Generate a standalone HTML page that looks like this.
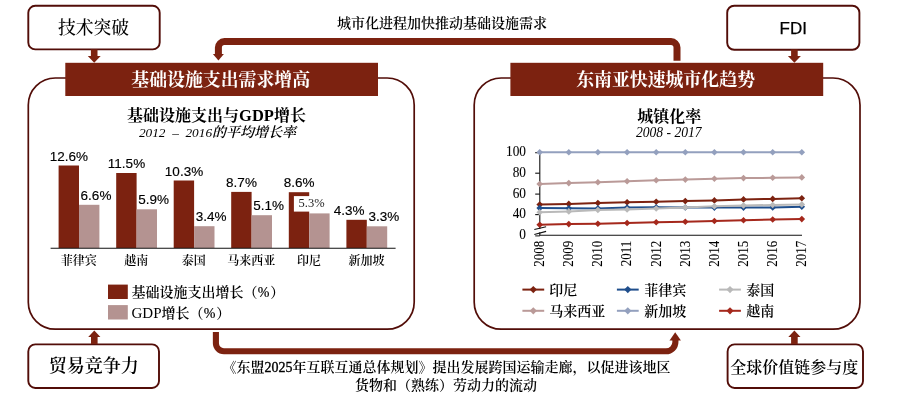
<!DOCTYPE html>
<html lang="zh"><head><meta charset="utf-8"><title>基础设施与城市化</title>
<style>html,body{margin:0;padding:0;background:#fff;}body{width:900px;height:406px;overflow:hidden;}svg{display:block;}text{font-family:'Liberation Serif','Noto Serif CJK SC',serif;fill:#000;}.sans{font-family:'Liberation Sans','Noto Sans CJK SC',sans-serif;}.b{font-weight:700;}.i{font-style:italic;}.m{text-anchor:middle;}.e{text-anchor:end;}</style></head><body>
<svg width="900" height="406" viewBox="0 0 900 406">
<rect width="900" height="406" fill="#fff"/>
<rect x="28.3" y="78.0" width="385.9" height="251.2" rx="27.0" ry="27.0" fill="none" stroke="#520D08" stroke-width="1.70"/>
<rect x="474.2" y="78.0" width="385.8" height="251.2" rx="27.0" ry="27.0" fill="none" stroke="#520D08" stroke-width="1.70"/>
<rect x="28.3" y="5.8" width="131.4" height="43.6" rx="7.0" ry="7.0" fill="#fff" stroke="#520D08" stroke-width="1.90"/>
<rect x="727.2" y="5.7" width="132.2" height="44.1" rx="7.0" ry="7.0" fill="#fff" stroke="#520D08" stroke-width="1.90"/>
<rect x="28.3" y="344.4" width="130.7" height="43.6" rx="7.0" ry="7.0" fill="#fff" stroke="#520D08" stroke-width="1.90"/>
<rect x="727.6" y="344.4" width="135.4" height="43.6" rx="7.0" ry="7.0" fill="#fff" stroke="#520D08" stroke-width="1.90"/>
<rect x="65.3" y="62.8" width="312.7" height="33.2" fill="#7C2210"/>
<rect x="510.4" y="62.8" width="312.8" height="33.2" fill="#7C2210"/>
<path d="M90.9 49.5 H97.5 V55.9 H100.7 L94.2 62.8 L87.8 55.9 H90.9 Z" fill="#7C2210"/>
<path d="M791.1 49.5 H797.7 V55.9 H800.9 L794.4 62.8 L787.9 55.9 H791.1 Z" fill="#7C2210"/>
<path d="M91.0 344.0 H97.6 V337.0 H100.4 L94.3 330.4 L88.2 337.0 H91.0 Z" fill="#7C2210"/>
<path d="M791.1 344.0 H797.7 V337.0 H800.5 L794.4 330.4 L788.3 337.0 H791.1 Z" fill="#7C2210"/>
<path d="M218.4 55 V47.6 A6 6 0 0 1 224.4 41.6 H671 A6 6 0 0 1 677 47.6 V60.7" fill="none" stroke="#7C2210" stroke-width="7"/>
<path d="M212.9 54 H223.9 L218.4 60.6 Z" fill="#7C2210"/>
<path d="M215.9 332 V343.3 A8 8 0 0 0 223.9 351.3 H666 A9.4 9.4 0 0 0 675.4 341.9 V340" fill="none" stroke="#7C2210" stroke-width="6.1"/>
<path d="M669.5 340.6 H680.9 L675.2 332.2 Z" fill="#7C2210"/>
<text x="93.6" y="34.2" font-size="17.8" class="m" style="font-weight:500">技术突破</text>
<text x="793.2" y="33.8" font-size="17" class="m sans" stroke="#000" stroke-width="0.25">FDI</text>
<text x="93.7" y="372.4" font-size="18" class="m" style="font-weight:600">贸易竞争力</text>
<text x="794.3" y="373.0" font-size="16" class="m" style="font-weight:600">全球价值链参与度</text>
<text x="220.7" y="85.5" font-size="17.9" class="m b" style="fill:#fff">基础设施支出需求增高</text>
<text x="665.6" y="85.5" font-size="17.9" class="m b" style="fill:#fff">东南亚快速城市化趋势</text>
<text x="442.0" y="27.6" font-size="14" class="m" style="font-weight:600">城市化进程加快推动基础设施需求</text>
<text x="446.6" y="372.4" font-size="14" class="m" style="font-weight:600">《东盟<tspan font-weight="400" stroke="#000" stroke-width="0.35">2025</tspan>年互联互通总体规划》提出发展跨国运输走廊，以促进该地区</text>
<text x="446.0" y="390.4" font-size="14" class="m" style="font-weight:600">货物和（熟练）劳动力的流动</text>
<text x="216.5" y="121.0" font-size="16" class="m b" >基础设施支出与<tspan font-size="16.5">GDP</tspan>增长</text>
<text x="217.5" y="137.3" font-size="14" class="m i" ><tspan font-size="13.3">2012&#160;&#160;–&#160;&#160;2016</tspan><tspan font-weight="600">的平均增长率</tspan></text>
<rect x="58.6" y="165.5" width="20.4" height="82.5" fill="#7C2210"/>
<rect x="79.0" y="204.8" width="20.4" height="43.2" fill="#B49391"/>
<text x="68.9" y="160.6" font-size="13.5" class="m sans" stroke="#000" stroke-width="0.15">12.6%</text>
<text x="96.0" y="199.7" font-size="13.5" class="m sans" stroke="#000" stroke-width="0.15">6.6%</text>
<text x="78.7" y="264.8" font-size="12" class="m" style="font-weight:600">菲律宾</text>
<rect x="116.2" y="173.0" width="20.4" height="75.0" fill="#7C2210"/>
<rect x="136.6" y="209.3" width="20.4" height="38.7" fill="#B49391"/>
<text x="126.5" y="168.1" font-size="13.5" class="m sans" stroke="#000" stroke-width="0.15">11.5%</text>
<text x="153.6" y="204.2" font-size="13.5" class="m sans" stroke="#000" stroke-width="0.15">5.9%</text>
<text x="136.2" y="264.8" font-size="12" class="m" style="font-weight:600">越南</text>
<rect x="173.7" y="180.5" width="20.4" height="67.5" fill="#7C2210"/>
<rect x="194.1" y="226.2" width="20.4" height="21.8" fill="#B49391"/>
<text x="184.0" y="175.6" font-size="13.5" class="m sans" stroke="#000" stroke-width="0.15">10.3%</text>
<text x="211.1" y="221.1" font-size="13.5" class="m sans" stroke="#000" stroke-width="0.15">3.4%</text>
<text x="193.8" y="264.8" font-size="12" class="m" style="font-weight:600">泰国</text>
<rect x="231.2" y="191.9" width="20.4" height="56.1" fill="#7C2210"/>
<rect x="251.6" y="215.2" width="20.4" height="32.8" fill="#B49391"/>
<text x="241.5" y="187.0" font-size="13.5" class="m sans" stroke="#000" stroke-width="0.15">8.7%</text>
<text x="268.6" y="210.1" font-size="13.5" class="m sans" stroke="#000" stroke-width="0.15">5.1%</text>
<text x="251.3" y="264.8" font-size="12" class="m" style="font-weight:600">马来西亚</text>
<rect x="288.8" y="192.2" width="20.4" height="55.8" fill="#7C2210"/>
<rect x="309.2" y="213.4" width="20.4" height="34.6" fill="#B49391"/>
<text x="299.1" y="187.3" font-size="13.5" class="m sans" stroke="#000" stroke-width="0.15">8.6%</text>
<rect x="293.9" y="196.1" width="33" height="15.5" fill="#fff"/>
<text x="311.6" y="207.2" font-size="12.5" class="m" style="fill:#222">5.3%</text>
<text x="308.9" y="264.8" font-size="12" class="m" style="font-weight:600">印尼</text>
<rect x="346.4" y="219.8" width="20.4" height="28.2" fill="#7C2210"/>
<rect x="366.8" y="226.3" width="20.4" height="21.7" fill="#B49391"/>
<text x="349.2" y="214.9" font-size="13.5" class="m sans" stroke="#000" stroke-width="0.15">4.3%</text>
<text x="383.8" y="221.2" font-size="13.5" class="m sans" stroke="#000" stroke-width="0.15">3.3%</text>
<text x="366.4" y="264.8" font-size="12" class="m" style="font-weight:600">新加坡</text>
<line x1="50.6" y1="248.3" x2="395.6" y2="248.3" stroke="#111" stroke-width="1.1"/>
<rect x="108" y="284.6" width="19.8" height="14.4" fill="#7C2210"/>
<rect x="108" y="305.1" width="19.8" height="14.4" fill="#B49391"/>
<text x="131.5" y="297.4" font-size="14" class="" style="font-weight:600">基础设施支出增长（<tspan font-weight="400" font-size="14" dx="0.3" stroke="#000" stroke-width="0.2">%</tspan><tspan dx="0.8">）</tspan></text>
<text x="131.5" y="317.6" font-size="14" class="" style="font-weight:600"><tspan font-weight="400" font-size="15">GDP</tspan>增长（<tspan font-weight="400" font-size="14" dx="0.3" stroke="#000" stroke-width="0.2">%</tspan><tspan dx="0.8">）</tspan></text>
<text x="669.2" y="121.6" font-size="16" class="m b" >城镇化率</text>
<text x="668.8" y="136.6" font-size="13.6" class="m i" >2008 - 2017</text>
<line x1="539.8" y1="152" x2="539.8" y2="235.2" stroke="#111" stroke-width="1.1"/>
<line x1="539.2" y1="235.2" x2="802.0" y2="235.2" stroke="#111" stroke-width="1.1"/>
<line x1="535.2" y1="152.7" x2="539.8" y2="152.7" stroke="#111" stroke-width="1.1"/>
<line x1="535.2" y1="173.2" x2="539.8" y2="173.2" stroke="#111" stroke-width="1.1"/>
<line x1="535.2" y1="194.1" x2="539.8" y2="194.1" stroke="#111" stroke-width="1.1"/>
<line x1="535.2" y1="214.6" x2="539.8" y2="214.6" stroke="#111" stroke-width="1.1"/>
<text transform="translate(526.0,155.9) scale(1,1.13)" font-size="13.3" class="e" stroke="#000" stroke-width="0.08">100</text>
<text transform="translate(526.0,176.6) scale(1,1.13)" font-size="13.3" class="e" stroke="#000" stroke-width="0.08">80</text>
<text transform="translate(526.0,197.5) scale(1,1.13)" font-size="13.3" class="e" stroke="#000" stroke-width="0.08">60</text>
<text transform="translate(526.0,218.0) scale(1,1.13)" font-size="13.3" class="e" stroke="#000" stroke-width="0.08">40</text>
<text transform="translate(526.0,238.7) scale(1,1.13)" font-size="13.3" class="e" stroke="#000" stroke-width="0.08">0</text>
<polyline fill="none" stroke="#93A0BE" stroke-width="2" stroke-linejoin="round" points="539.7,152.3 568.8,152.3 597.9,152.3 627.1,152.3 656.2,152.3 685.3,152.3 714.4,152.3 743.5,152.3 772.7,152.3 801.8,152.3"/>
<path d="M536.4 152.3 L539.7 149.0 L543.0 152.3 L539.7 155.6 Z" fill="#93A0BE"/>
<path d="M565.5 152.3 L568.8 149.0 L572.1 152.3 L568.8 155.6 Z" fill="#93A0BE"/>
<path d="M594.6 152.3 L597.9 149.0 L601.2 152.3 L597.9 155.6 Z" fill="#93A0BE"/>
<path d="M623.8 152.3 L627.1 149.0 L630.4 152.3 L627.1 155.6 Z" fill="#93A0BE"/>
<path d="M652.9 152.3 L656.2 149.0 L659.5 152.3 L656.2 155.6 Z" fill="#93A0BE"/>
<path d="M682.0 152.3 L685.3 149.0 L688.6 152.3 L685.3 155.6 Z" fill="#93A0BE"/>
<path d="M711.1 152.3 L714.4 149.0 L717.7 152.3 L714.4 155.6 Z" fill="#93A0BE"/>
<path d="M740.2 152.3 L743.5 149.0 L746.8 152.3 L743.5 155.6 Z" fill="#93A0BE"/>
<path d="M769.4 152.3 L772.7 149.0 L776.0 152.3 L772.7 155.6 Z" fill="#93A0BE"/>
<path d="M798.5 152.3 L801.8 149.0 L805.1 152.3 L801.8 155.6 Z" fill="#93A0BE"/>
<polyline fill="none" stroke="#BA9A98" stroke-width="2" stroke-linejoin="round" points="539.7,184.0 568.8,183.1 597.9,182.3 627.1,181.3 656.2,180.2 685.3,179.6 714.4,178.7 743.5,178.1 772.7,177.8 801.8,177.4"/>
<path d="M536.4 184.0 L539.7 180.7 L543.0 184.0 L539.7 187.3 Z" fill="#BA9A98"/>
<path d="M565.5 183.1 L568.8 179.8 L572.1 183.1 L568.8 186.4 Z" fill="#BA9A98"/>
<path d="M594.6 182.3 L597.9 179.0 L601.2 182.3 L597.9 185.6 Z" fill="#BA9A98"/>
<path d="M623.8 181.3 L627.1 178.0 L630.4 181.3 L627.1 184.6 Z" fill="#BA9A98"/>
<path d="M652.9 180.2 L656.2 176.9 L659.5 180.2 L656.2 183.5 Z" fill="#BA9A98"/>
<path d="M682.0 179.6 L685.3 176.3 L688.6 179.6 L685.3 182.9 Z" fill="#BA9A98"/>
<path d="M711.1 178.7 L714.4 175.4 L717.7 178.7 L714.4 182.0 Z" fill="#BA9A98"/>
<path d="M740.2 178.1 L743.5 174.8 L746.8 178.1 L743.5 181.4 Z" fill="#BA9A98"/>
<path d="M769.4 177.8 L772.7 174.5 L776.0 177.8 L772.7 181.1 Z" fill="#BA9A98"/>
<path d="M798.5 177.4 L801.8 174.1 L805.1 177.4 L801.8 180.7 Z" fill="#BA9A98"/>
<polyline fill="none" stroke="#7C2210" stroke-width="2" stroke-linejoin="round" points="539.7,204.5 568.8,203.9 597.9,203.0 627.1,202.2 656.2,201.7 685.3,201.1 714.4,200.4 743.5,199.4 772.7,198.9 801.8,198.3"/>
<path d="M536.4 204.5 L539.7 201.2 L543.0 204.5 L539.7 207.8 Z" fill="#7C2210"/>
<path d="M565.5 203.9 L568.8 200.6 L572.1 203.9 L568.8 207.2 Z" fill="#7C2210"/>
<path d="M594.6 203.0 L597.9 199.7 L601.2 203.0 L597.9 206.3 Z" fill="#7C2210"/>
<path d="M623.8 202.2 L627.1 198.9 L630.4 202.2 L627.1 205.5 Z" fill="#7C2210"/>
<path d="M652.9 201.7 L656.2 198.4 L659.5 201.7 L656.2 205.0 Z" fill="#7C2210"/>
<path d="M682.0 201.1 L685.3 197.8 L688.6 201.1 L685.3 204.4 Z" fill="#7C2210"/>
<path d="M711.1 200.4 L714.4 197.1 L717.7 200.4 L714.4 203.7 Z" fill="#7C2210"/>
<path d="M740.2 199.4 L743.5 196.1 L746.8 199.4 L743.5 202.7 Z" fill="#7C2210"/>
<path d="M769.4 198.9 L772.7 195.6 L776.0 198.9 L772.7 202.2 Z" fill="#7C2210"/>
<path d="M798.5 198.3 L801.8 195.0 L805.1 198.3 L801.8 201.6 Z" fill="#7C2210"/>
<polyline fill="none" stroke="#1F4E8C" stroke-width="2" stroke-linejoin="round" points="539.7,208.1 568.8,208.2 597.9,208.4 627.1,207.6 656.2,207.3 685.3,207.5 714.4,207.6 743.5,207.6 772.7,207.4 801.8,206.7"/>
<path d="M536.4 208.1 L539.7 204.8 L543.0 208.1 L539.7 211.4 Z" fill="#1F4E8C"/>
<path d="M565.5 208.2 L568.8 204.9 L572.1 208.2 L568.8 211.5 Z" fill="#1F4E8C"/>
<path d="M594.6 208.4 L597.9 205.1 L601.2 208.4 L597.9 211.7 Z" fill="#1F4E8C"/>
<path d="M623.8 207.6 L627.1 204.3 L630.4 207.6 L627.1 210.9 Z" fill="#1F4E8C"/>
<path d="M652.9 207.3 L656.2 204.0 L659.5 207.3 L656.2 210.6 Z" fill="#1F4E8C"/>
<path d="M682.0 207.5 L685.3 204.2 L688.6 207.5 L685.3 210.8 Z" fill="#1F4E8C"/>
<path d="M711.1 207.6 L714.4 204.3 L717.7 207.6 L714.4 210.9 Z" fill="#1F4E8C"/>
<path d="M740.2 207.6 L743.5 204.3 L746.8 207.6 L743.5 210.9 Z" fill="#1F4E8C"/>
<path d="M769.4 207.4 L772.7 204.1 L776.0 207.4 L772.7 210.7 Z" fill="#1F4E8C"/>
<path d="M798.5 206.7 L801.8 203.4 L805.1 206.7 L801.8 210.0 Z" fill="#1F4E8C"/>
<polyline fill="none" stroke="#B9B9B9" stroke-width="2" stroke-linejoin="round" points="539.7,212.2 568.8,211.4 597.9,210.0 627.1,209.5 656.2,208.5 685.3,207.4 714.4,206.3 743.5,205.4 772.7,205.0 801.8,204.4"/>
<path d="M536.4 212.2 L539.7 208.9 L543.0 212.2 L539.7 215.5 Z" fill="#B9B9B9"/>
<path d="M565.5 211.4 L568.8 208.1 L572.1 211.4 L568.8 214.7 Z" fill="#B9B9B9"/>
<path d="M594.6 210.0 L597.9 206.7 L601.2 210.0 L597.9 213.3 Z" fill="#B9B9B9"/>
<path d="M623.8 209.5 L627.1 206.2 L630.4 209.5 L627.1 212.8 Z" fill="#B9B9B9"/>
<path d="M652.9 208.5 L656.2 205.2 L659.5 208.5 L656.2 211.8 Z" fill="#B9B9B9"/>
<path d="M682.0 207.4 L685.3 204.1 L688.6 207.4 L685.3 210.7 Z" fill="#B9B9B9"/>
<path d="M711.1 206.3 L714.4 203.0 L717.7 206.3 L714.4 209.6 Z" fill="#B9B9B9"/>
<path d="M740.2 205.4 L743.5 202.1 L746.8 205.4 L743.5 208.7 Z" fill="#B9B9B9"/>
<path d="M769.4 205.0 L772.7 201.7 L776.0 205.0 L772.7 208.3 Z" fill="#B9B9B9"/>
<path d="M798.5 204.4 L801.8 201.1 L805.1 204.4 L801.8 207.7 Z" fill="#B9B9B9"/>
<polyline fill="none" stroke="#A5281C" stroke-width="2" stroke-linejoin="round" points="539.7,224.8 568.8,224.1 597.9,223.7 627.1,223.0 656.2,222.2 685.3,221.8 714.4,221.0 743.5,220.2 772.7,219.5 801.8,219.1"/>
<path d="M536.4 224.8 L539.7 221.5 L543.0 224.8 L539.7 228.1 Z" fill="#A5281C"/>
<path d="M565.5 224.1 L568.8 220.8 L572.1 224.1 L568.8 227.4 Z" fill="#A5281C"/>
<path d="M594.6 223.7 L597.9 220.4 L601.2 223.7 L597.9 227.0 Z" fill="#A5281C"/>
<path d="M623.8 223.0 L627.1 219.7 L630.4 223.0 L627.1 226.3 Z" fill="#A5281C"/>
<path d="M652.9 222.2 L656.2 218.9 L659.5 222.2 L656.2 225.5 Z" fill="#A5281C"/>
<path d="M682.0 221.8 L685.3 218.5 L688.6 221.8 L685.3 225.1 Z" fill="#A5281C"/>
<path d="M711.1 221.0 L714.4 217.7 L717.7 221.0 L714.4 224.3 Z" fill="#A5281C"/>
<path d="M740.2 220.2 L743.5 216.9 L746.8 220.2 L743.5 223.5 Z" fill="#A5281C"/>
<path d="M769.4 219.5 L772.7 216.2 L776.0 219.5 L772.7 222.8 Z" fill="#A5281C"/>
<path d="M798.5 219.1 L801.8 215.8 L805.1 219.1 L801.8 222.4 Z" fill="#A5281C"/>
<rect x="538.5" y="228.9" width="2.6" height="3.4" fill="#fff"/>
<line x1="534.3" y1="229.5" x2="546.1" y2="226.7" stroke="#111" stroke-width="1.1"/>
<line x1="534.3" y1="234.5" x2="546.1" y2="231.4" stroke="#111" stroke-width="1.1"/>
<line x1="535.2" y1="235.9" x2="539.8" y2="235.9" stroke="#111" stroke-width="1.0"/>
<text transform="translate(544.0,240.8) rotate(-90) scale(1,1.14)" font-size="13" class="e" stroke="#000" stroke-width="0.08">2008</text>
<text transform="translate(573.1,240.8) rotate(-90) scale(1,1.14)" font-size="13" class="e" stroke="#000" stroke-width="0.08">2009</text>
<text transform="translate(602.2,240.8) rotate(-90) scale(1,1.14)" font-size="13" class="e" stroke="#000" stroke-width="0.08">2010</text>
<text transform="translate(631.4,240.8) rotate(-90) scale(1,1.14)" font-size="13" class="e" stroke="#000" stroke-width="0.08">2011</text>
<text transform="translate(660.5,240.8) rotate(-90) scale(1,1.14)" font-size="13" class="e" stroke="#000" stroke-width="0.08">2012</text>
<text transform="translate(689.6,240.8) rotate(-90) scale(1,1.14)" font-size="13" class="e" stroke="#000" stroke-width="0.08">2013</text>
<text transform="translate(718.7,240.8) rotate(-90) scale(1,1.14)" font-size="13" class="e" stroke="#000" stroke-width="0.08">2014</text>
<text transform="translate(747.8,240.8) rotate(-90) scale(1,1.14)" font-size="13" class="e" stroke="#000" stroke-width="0.08">2015</text>
<text transform="translate(777.0,240.8) rotate(-90) scale(1,1.14)" font-size="13" class="e" stroke="#000" stroke-width="0.08">2016</text>
<text transform="translate(806.1,240.8) rotate(-90) scale(1,1.14)" font-size="13" class="e" stroke="#000" stroke-width="0.08">2017</text>
<line x1="522.4" y1="289.6" x2="544.2" y2="289.6" stroke="#7C2210" stroke-width="2"/>
<path d="M529.7 289.6 L533.3 286.0 L536.9 289.6 L533.3 293.2 Z" fill="#7C2210"/>
<text x="549.2" y="294.6" font-size="14" class="" style="font-weight:600">印尼</text>
<line x1="522.4" y1="310.8" x2="544.2" y2="310.8" stroke="#BA9A98" stroke-width="2"/>
<path d="M529.7 310.8 L533.3 307.2 L536.9 310.8 L533.3 314.4 Z" fill="#BA9A98"/>
<text x="549.2" y="315.8" font-size="14" class="" style="font-weight:600">马来西亚</text>
<line x1="616.9" y1="289.6" x2="638.7" y2="289.6" stroke="#1F4E8C" stroke-width="2"/>
<path d="M624.2 289.6 L627.8 286.0 L631.4 289.6 L627.8 293.2 Z" fill="#1F4E8C"/>
<text x="644.2" y="294.6" font-size="14" class="" style="font-weight:600">菲律宾</text>
<line x1="616.9" y1="310.8" x2="638.7" y2="310.8" stroke="#93A0BE" stroke-width="2"/>
<path d="M624.2 310.8 L627.8 307.2 L631.4 310.8 L627.8 314.4 Z" fill="#93A0BE"/>
<text x="644.2" y="315.8" font-size="14" class="" style="font-weight:600">新加坡</text>
<line x1="719.1" y1="289.6" x2="740.9" y2="289.6" stroke="#B9B9B9" stroke-width="2"/>
<path d="M726.4 289.6 L730.0 286.0 L733.6 289.6 L730.0 293.2 Z" fill="#B9B9B9"/>
<text x="746.2" y="294.6" font-size="14" class="" style="font-weight:600">泰国</text>
<line x1="719.1" y1="310.8" x2="740.9" y2="310.8" stroke="#A5281C" stroke-width="2"/>
<path d="M726.4 310.8 L730.0 307.2 L733.6 310.8 L730.0 314.4 Z" fill="#A5281C"/>
<text x="746.2" y="315.8" font-size="14" class="" style="font-weight:600">越南</text>
</svg></body></html>
